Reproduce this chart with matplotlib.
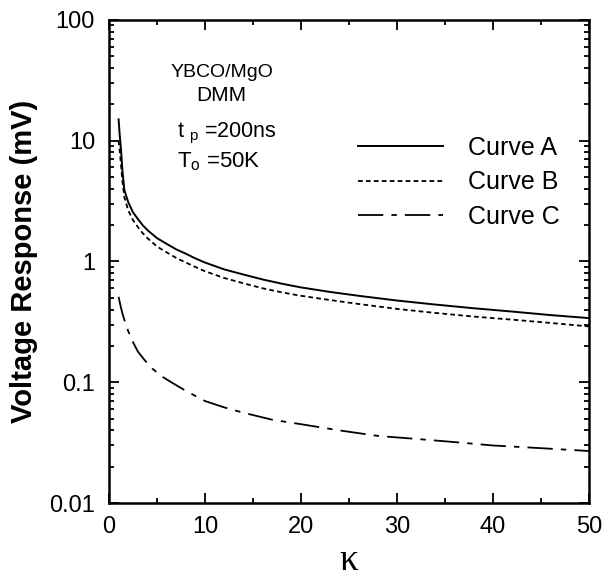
import matplotlib
matplotlib.use("Agg")
import matplotlib.pyplot as plt
from matplotlib.ticker import FixedLocator, LogLocator, NullFormatter

plt.rcParams["font.family"] = ["Liberation Sans", "DejaVu Sans"]
plt.rcParams["mathtext.fontset"] = "custom"
plt.rcParams["mathtext.rm"] = "Liberation Sans"

# values
kappa_ab = [1, 1.1, 1.25, 1.4, 1.6, 2, 2.5, 3, 3.5, 4, 5, 6, 7, 8, 9, 10,
            12, 14, 16, 18, 20, 23, 26, 30, 34, 38, 42, 46, 50]
curve_a = [15, 11.5, 8.4, 5.6, 3.9, 3.1, 2.55, 2.25, 2.0, 1.82, 1.56, 1.40, 1.26, 1.16, 1.06, 0.98,
           0.86, 0.78, 0.71, 0.655, 0.61, 0.56, 0.52, 0.475, 0.44, 0.41, 0.385, 0.36, 0.34]
curve_b = [10, 8.5, 6.3, 4.6, 3.4, 2.65, 2.2, 1.93, 1.72, 1.56, 1.33, 1.19, 1.07, 0.98, 0.9, 0.83,
           0.73, 0.66, 0.6, 0.555, 0.52, 0.48, 0.445, 0.405, 0.375, 0.35, 0.33, 0.31, 0.29]

kappa_c = [1, 1.2, 1.4, 1.7, 2, 2.5, 3, 3.7, 4.5, 5.5, 6.5, 8, 10, 12,
           14, 17, 20, 24, 28, 32, 36, 40, 45, 50]
curve_c = [0.51, 0.43, 0.37, 0.31, 0.265, 0.215, 0.18, 0.153, 0.13, 0.112, 0.1, 0.085, 0.07, 0.062,
           0.056, 0.049, 0.045, 0.04, 0.036, 0.034, 0.032, 0.030, 0.0285, 0.027]

labels = ["Curve A", "Curve B", "Curve C"]
x_ticks = [0, 10, 20, 30, 40, 50]
x_minor = [5, 15, 25, 35, 45]
y_ticks = [0.01, 0.1, 1, 10, 100]
y_ticklabels = ["0.01", "0.1", "1", "10", "100"]

fig = plt.figure(figsize=(6.09, 5.83), dpi=100)
ax = fig.add_axes([0.179, 0.137, 0.788, 0.829])

ax.plot(kappa_ab, curve_a, color="black", lw=1.4, label=labels[0])
ax.plot(kappa_ab, curve_b, color="black", lw=1.3, dashes=(2.6, 1.8), label=labels[1])
ax.plot(kappa_c, curve_c, color="black", lw=1.3, dashes=(14, 4.5, 3, 4.5), label=labels[2])

ax.set_yscale("log")
ax.set_xlim(0, 50)
ax.set_ylim(0.01, 100)

ax.set_xticks(x_ticks)
ax.xaxis.set_minor_locator(FixedLocator(x_minor))
ax.set_yticks(y_ticks)
ax.set_yticklabels(y_ticklabels)
ax.yaxis.set_minor_locator(LogLocator(base=10, subs=range(2, 10)))
ax.yaxis.set_minor_formatter(NullFormatter())

ax.tick_params(which="both", direction="in", top=True, right=True, width=1.3, labelsize=17)
ax.tick_params(which="major", length=7)
ax.tick_params(which="minor", length=3.5)
ax.tick_params(axis="x", which="major", pad=9)
ax.tick_params(axis="y", which="major", pad=10)
for s in ax.spines.values():
    s.set_linewidth(1.8)

ax.set_ylabel("Voltage Response (mV)", fontsize=21, fontweight="bold", labelpad=8)
ax.set_xlabel("\u03ba", fontsize=27, family=["Liberation Serif", "DejaVu Serif"], labelpad=4)

ax.text(0.235, 0.892, "YBCO/MgO", transform=ax.transAxes, ha="center", va="center", fontsize=14)
ax.text(0.235, 0.843, "DMM", transform=ax.transAxes, ha="center", va="center", fontsize=15)
ax.text(0.142, 0.764, r"t $_{\mathregular{p}}$ =200ns", transform=ax.transAxes,
        ha="left", va="center", fontsize=15.5)
ax.text(0.142, 0.706, r"T$_{\mathregular{o}}$ =50K", transform=ax.transAxes,
        ha="left", va="center", fontsize=16)

ax.legend(loc="upper left", bbox_to_anchor=(0.519, 0.760), frameon=False, fontsize=18,
          borderaxespad=0, borderpad=0, handlelength=3.4, handletextpad=1.0, labelspacing=0.42)

fig.savefig("out.png", dpi=100)
